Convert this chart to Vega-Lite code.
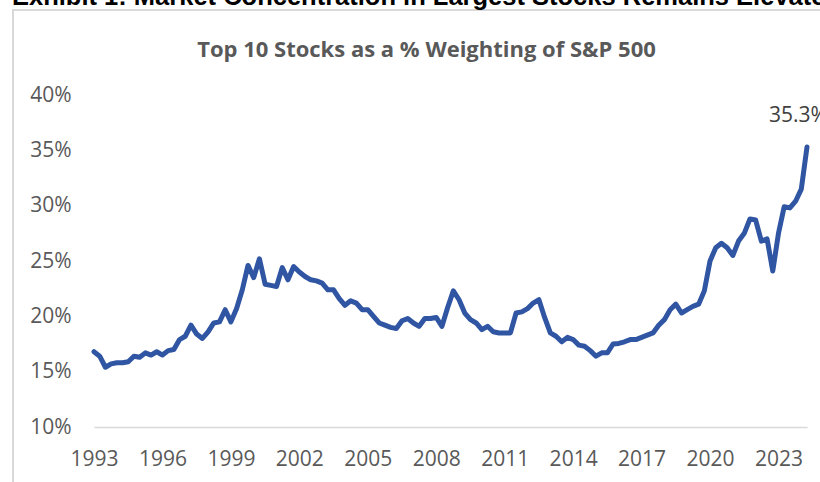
{
  "$schema": "https://vega.github.io/schema/vega-lite/v6.json",
  "width": 713,
  "height": 332,
  "autosize": {"type": "none"},
  "padding": {"left": 94, "top": 95, "right": 13, "bottom": 55},
  "background": "white",
  "config": {"view": {"stroke": null}, "font": "Open Sans"},
  "title": {
    "text": "Exhibit 1: Market Concentration in Largest Stocks Remains Elevated",
    "subtitle": "Top 10 Stocks as a % Weighting of S&P 500",
    "anchor": "middle",
    "dx": -24,
    "font": "Liberation Sans",
    "fontSize": 25.5,
    "fontWeight": "bold",
    "color": "#000000",
    "subtitleFont": "Open Sans",
    "subtitleFontSize": 22,
    "subtitleFontWeight": "bold",
    "subtitleColor": "#595959",
    "subtitlePadding": 30,
    "offset": -52
  },
  "data": {
    "values": [
      {"t": 1993.0, "v": 16.8}, {"t": 1993.25, "v": 16.4}, {"t": 1993.5, "v": 15.4}, {"t": 1993.75, "v": 15.7},
      {"t": 1994.0, "v": 15.8}, {"t": 1994.25, "v": 15.8}, {"t": 1994.5, "v": 15.9}, {"t": 1994.75, "v": 16.4},
      {"t": 1995.0, "v": 16.3}, {"t": 1995.25, "v": 16.7}, {"t": 1995.5, "v": 16.5}, {"t": 1995.75, "v": 16.8},
      {"t": 1996.0, "v": 16.5}, {"t": 1996.25, "v": 16.9}, {"t": 1996.5, "v": 17.0}, {"t": 1996.75, "v": 17.9},
      {"t": 1997.0, "v": 18.2}, {"t": 1997.25, "v": 19.2}, {"t": 1997.5, "v": 18.4}, {"t": 1997.75, "v": 18.0},
      {"t": 1998.0, "v": 18.6}, {"t": 1998.25, "v": 19.4}, {"t": 1998.5, "v": 19.5}, {"t": 1998.75, "v": 20.6},
      {"t": 1999.0, "v": 19.5}, {"t": 1999.25, "v": 20.7}, {"t": 1999.5, "v": 22.4}, {"t": 1999.75, "v": 24.6},
      {"t": 2000.0, "v": 23.5}, {"t": 2000.25, "v": 25.2}, {"t": 2000.5, "v": 22.9}, {"t": 2000.75, "v": 22.8},
      {"t": 2001.0, "v": 22.7}, {"t": 2001.25, "v": 24.4}, {"t": 2001.5, "v": 23.3}, {"t": 2001.75, "v": 24.5},
      {"t": 2002.0, "v": 24.0}, {"t": 2002.25, "v": 23.6}, {"t": 2002.5, "v": 23.3}, {"t": 2002.75, "v": 23.2},
      {"t": 2003.0, "v": 23.0}, {"t": 2003.25, "v": 22.4}, {"t": 2003.5, "v": 22.4}, {"t": 2003.75, "v": 21.6},
      {"t": 2004.0, "v": 21.0}, {"t": 2004.25, "v": 21.4}, {"t": 2004.5, "v": 21.2}, {"t": 2004.75, "v": 20.6},
      {"t": 2005.0, "v": 20.6}, {"t": 2005.25, "v": 20.0}, {"t": 2005.5, "v": 19.4}, {"t": 2005.75, "v": 19.2},
      {"t": 2006.0, "v": 19.0}, {"t": 2006.25, "v": 18.9}, {"t": 2006.5, "v": 19.6}, {"t": 2006.75, "v": 19.8},
      {"t": 2007.0, "v": 19.4}, {"t": 2007.25, "v": 19.1}, {"t": 2007.5, "v": 19.8}, {"t": 2007.75, "v": 19.8},
      {"t": 2008.0, "v": 19.9}, {"t": 2008.25, "v": 19.1}, {"t": 2008.5, "v": 20.8}, {"t": 2008.75, "v": 22.3},
      {"t": 2009.0, "v": 21.5}, {"t": 2009.25, "v": 20.3}, {"t": 2009.5, "v": 19.7}, {"t": 2009.75, "v": 19.4},
      {"t": 2010.0, "v": 18.8}, {"t": 2010.25, "v": 19.1}, {"t": 2010.5, "v": 18.6}, {"t": 2010.75, "v": 18.5},
      {"t": 2011.0, "v": 18.5}, {"t": 2011.25, "v": 18.5}, {"t": 2011.5, "v": 20.3}, {"t": 2011.75, "v": 20.4},
      {"t": 2012.0, "v": 20.7}, {"t": 2012.25, "v": 21.2}, {"t": 2012.5, "v": 21.5}, {"t": 2012.75, "v": 19.9},
      {"t": 2013.0, "v": 18.5}, {"t": 2013.25, "v": 18.2}, {"t": 2013.5, "v": 17.7}, {"t": 2013.75, "v": 18.1},
      {"t": 2014.0, "v": 17.9}, {"t": 2014.25, "v": 17.4}, {"t": 2014.5, "v": 17.3}, {"t": 2014.75, "v": 16.9},
      {"t": 2015.0, "v": 16.4}, {"t": 2015.25, "v": 16.7}, {"t": 2015.5, "v": 16.7}, {"t": 2015.75, "v": 17.5},
      {"t": 2016.0, "v": 17.55}, {"t": 2016.25, "v": 17.7}, {"t": 2016.5, "v": 17.9}, {"t": 2016.75, "v": 17.9},
      {"t": 2017.0, "v": 18.1}, {"t": 2017.25, "v": 18.3}, {"t": 2017.5, "v": 18.5}, {"t": 2017.75, "v": 19.2},
      {"t": 2018.0, "v": 19.7}, {"t": 2018.25, "v": 20.6}, {"t": 2018.5, "v": 21.1}, {"t": 2018.75, "v": 20.3},
      {"t": 2019.0, "v": 20.6}, {"t": 2019.25, "v": 20.9}, {"t": 2019.5, "v": 21.1}, {"t": 2019.75, "v": 22.3},
      {"t": 2020.0, "v": 25.0}, {"t": 2020.25, "v": 26.2}, {"t": 2020.5, "v": 26.6}, {"t": 2020.75, "v": 26.2},
      {"t": 2021.0, "v": 25.5}, {"t": 2021.25, "v": 26.8}, {"t": 2021.5, "v": 27.5}, {"t": 2021.75, "v": 28.8},
      {"t": 2022.0, "v": 28.7}, {"t": 2022.25, "v": 26.8}, {"t": 2022.5, "v": 27.0}, {"t": 2022.75, "v": 24.1},
      {"t": 2023.0, "v": 27.5}, {"t": 2023.25, "v": 29.9}, {"t": 2023.5, "v": 29.8}, {"t": 2023.75, "v": 30.4},
      {"t": 2024.0, "v": 31.5}, {"t": 2024.25, "v": 35.3}
    ]
  },
  "encoding": {
    "x": {
      "field": "t",
      "type": "quantitative",
      "scale": {"domain": [1993, 2024.25], "nice": false, "zero": false},
      "axis": {
        "title": null,
        "values": [1993, 1996, 1999, 2002, 2005, 2008, 2011, 2014, 2017, 2020, 2023],
        "format": "d",
        "ticks": false,
        "grid": false,
        "domainColor": "#d9d9d9",
        "domainWidth": 1.5,
        "labelFont": "Open Sans",
        "labelFontSize": 21,
        "labelColor": "#595959",
        "labelPadding": 21,
        "labelFlush": false,
        "labelOverlap": false
      }
    },
    "y": {
      "field": "v",
      "type": "quantitative",
      "scale": {"domain": [10, 40], "nice": false, "zero": false},
      "axis": {
        "title": null,
        "values": [10, 15, 20, 25, 30, 35, 40],
        "labelExpr": "datum.value + '%'",
        "ticks": false,
        "grid": false,
        "domain": false,
        "labelFont": "Open Sans",
        "labelFontSize": 21,
        "labelColor": "#595959",
        "labelPadding": 23
      }
    }
  },
  "layer": [
    {
      "mark": {"type": "rect", "fill": null, "stroke": "#d9d9d9", "strokeWidth": 1.5, "clip": false},
      "encoding": {
        "x": {"datum": 1989.44, "type": "quantitative"},
        "x2": {"datum": 2035},
        "y": {"datum": 47.7, "type": "quantitative"},
        "y2": {"datum": 0}
      }
    },
    {
      "mark": {"type": "line", "color": "#2F55A3", "strokeWidth": 5, "strokeJoin": "round", "strokeCap": "round"}
    },
    {
      "transform": [{"filter": "datum.t == 2024.25"}],
      "mark": {"type": "text", "font": "Open Sans", "fontSize": 21, "color": "#404040", "align": "left", "baseline": "middle", "dx": -38, "dy": -31},
      "encoding": {"text": {"value": "35.3%"}}
    }
  ]
}
